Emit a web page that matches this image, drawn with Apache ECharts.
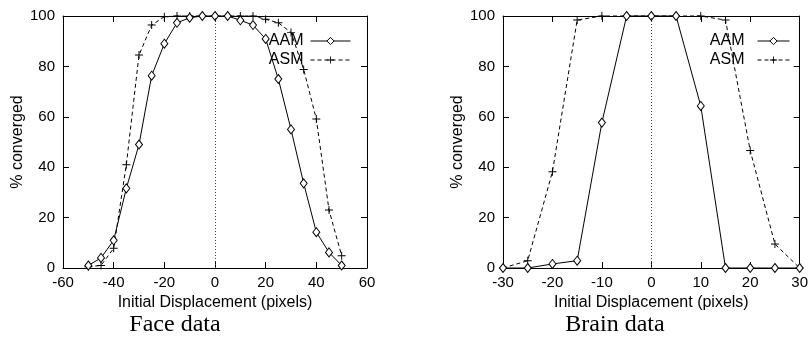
<!DOCTYPE html>
<html>
<head>
<meta charset="utf-8">
<script src="https://cdn.jsdelivr.net/npm/echarts@6/dist/echarts.min.js"></script>
<style>
  html, body { margin: 0; padding: 0; background: #fff; }
  #chart { width: 811px; height: 346px; }
</style>
</head>
<body>
<div id="chart"></div>
<script>
const faceDisp = [-50, -45, -40, -35, -30, -25, -20, -15, -10, -5, 0, 5, 10, 15, 20, 25, 30, 35, 40, 45, 50];
const faceAAM = [1, 4, 11, 31.6, 49, 76.3, 89, 97.3, 99.3, 100, 100, 100, 98.3, 96.4, 90.9, 75, 55, 33.6, 14.2, 6.2, 1];
const faceASM = [0.5, 1, 7.8, 41, 84.5, 96.4, 99.7, 100, 100, 100, 100, 100, 100, 100, 98.7, 97.3, 93.5, 78.8, 59.1, 23, 4.9];

const brainDisp = [-30, -25, -20, -15, -10, -5, 0, 5, 10, 15, 20, 25, 30];
const brainAAM = [0, 0, 1.6, 2.9, 57.7, 100, 100, 100, 64.3, 0, 0, 0, 0];
const brainASM = [0, 2.9, 38.2, 98.4, 100, 100, 100, 100, 100, 98.4, 46.6, 9.5, 0];

const panelTitles = ["Face data", "Brain data"];
const xTitle = "Initial Displacement (pixels)";
const yTitle = "% converged";

const sans = "Liberation Sans";
const plusPath = "path://M4.4,0H5.6V4.4H10V5.6H5.6V10H4.4V5.6H0V4.4H4.4Z";
const lineColor = "#000";

const pairs = (xs, ys) => xs.map((x, i) => [x, ys[i]]);

function xAxes(gridIndex, min, max, interval) {
  const base = {
    gridIndex, type: "value", min, max, interval,
    axisLine: { show: true, onZero: false, lineStyle: { color: lineColor, width: 1 } },
    axisTick: { show: true, inside: true, length: 6, lineStyle: { color: lineColor } },
    splitLine: { show: false },
  };
  return [
    { ...base, position: "bottom", name: xTitle, nameLocation: "middle", nameGap: 19,
      nameTextStyle: { color: lineColor, fontFamily: sans, fontSize: 16 },
      axisLabel: { color: lineColor, fontFamily: sans, fontSize: 15, margin: 7, showMaxLabel: true, showMinLabel: true } },
    { ...base, position: "top", axisLabel: { show: false } },
  ];
}

function yAxes(gridIndex) {
  const base = {
    gridIndex, type: "value", min: 0, max: 100, interval: 20,
    axisLine: { show: true, onZero: false, lineStyle: { color: lineColor, width: 1 } },
    axisTick: { show: true, inside: true, length: 6, lineStyle: { color: lineColor } },
    splitLine: { show: false },
  };
  return [
    { ...base, position: "left", name: yTitle, nameLocation: "middle", nameGap: 30,
      nameTextStyle: { color: lineColor, fontFamily: sans, fontSize: 16 },
      axisLabel: { color: lineColor, fontFamily: sans, fontSize: 15, margin: 8 } },
    { ...base, position: "right", axisLabel: { show: false } },
  ];
}

function seriesFor(axisIdx, disp, aam, asm) {
  return [
    {
      name: "AAM", type: "line", xAxisIndex: axisIdx * 2, yAxisIndex: axisIdx * 2,
      data: pairs(disp, aam), clip: false,
      symbol: "diamond", symbolSize: [7, 9], showAllSymbol: true,
      lineStyle: { color: lineColor, width: 1 },
      itemStyle: { color: "#fff", borderColor: lineColor, borderWidth: 1 },
      markLine: {
        silent: true, symbol: "none", label: { show: false },
        lineStyle: { color: "#444", type: [1, 2], width: 1 },
        data: [{ xAxis: 0 }],
      },
      z: 3,
    },
    {
      name: "ASM", type: "line", xAxisIndex: axisIdx * 2, yAxisIndex: axisIdx * 2,
      data: pairs(disp, asm), clip: false,
      symbol: plusPath, symbolSize: 8, showAllSymbol: true,
      lineStyle: { color: lineColor, width: 1, type: [4, 3] },
      itemStyle: { color: lineColor },
      z: 2,
    },
  ];
}

const legendBase = {
  orient: "vertical", align: "right", itemWidth: 40, itemHeight: 9, itemGap: 3,
  lineStyle: { width: 1 }, itemStyle: { borderWidth: 1 },
  textStyle: { color: lineColor, fontFamily: sans, fontSize: 16, padding: [0, 2, 0, 0] },
  data: ["AAM", "ASM"], selectedMode: false,
};

const chart = echarts.init(document.getElementById("chart"), null, { renderer: "canvas" });
chart.setOption({
  animation: false,
  backgroundColor: "#fff",
  grid: [
    { left: 63, top: 16, width: 304, height: 252 },
    { left: 503, top: 16, width: 304, height: 252 },
  ],
  xAxis: [...xAxes(0, -60, 60, 20), ...xAxes(1, -30, 30, 10)],
  yAxis: [...yAxes(0), ...yAxes(1)],
  legend: [
    { ...legendBase, right: 455, top: 28 },
    { ...legendBase, right: 16, top: 28, itemWidth: 32, textStyle: { ...legendBase.textStyle, padding: [0, 8, 0, 0] } },
  ],
  series: [...seriesFor(0, faceDisp, faceAAM, faceASM), ...seriesFor(1, brainDisp, brainAAM, brainASM)],
  graphic: [
    { type: "text", x: 175, y: 325, style: { text: panelTitles[0], align: "center", verticalAlign: "middle", font: "24px 'Liberation Serif'", fill: lineColor } },
    { type: "text", x: 615, y: 325, style: { text: panelTitles[1], align: "center", verticalAlign: "middle", font: "24px 'Liberation Serif'", fill: lineColor } },
  ],
});
</script>
</body>
</html>
